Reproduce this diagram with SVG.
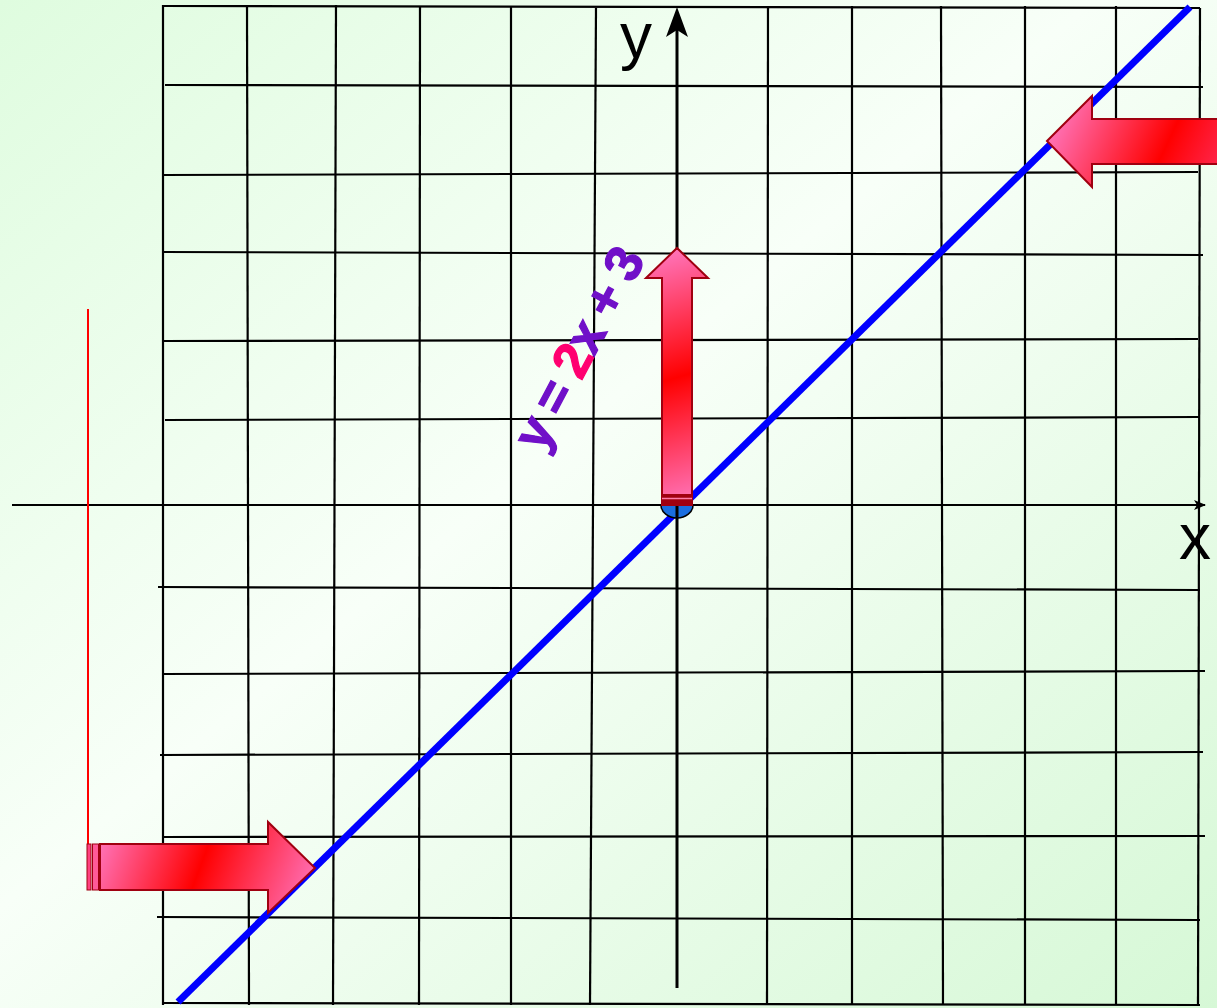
<svg xmlns="http://www.w3.org/2000/svg" width="1217" height="1008" viewBox="0 0 1217 1008">
<defs>
<linearGradient id="bg" x1="0" y1="0" x2="1" y2="1">
<stop offset="0" stop-color="#dffcdf"/>
<stop offset="0.45" stop-color="#f8fff8"/>
<stop offset="1" stop-color="#d6f8d6"/>
</linearGradient>
<linearGradient id="gUp" gradientUnits="userSpaceOnUse" x1="640" y1="255" x2="714" y2="500">
<stop offset="0" stop-color="#ff78c0"/>
<stop offset="0.5" stop-color="#ff0000"/>
<stop offset="1" stop-color="#ff78c0"/>
</linearGradient>
<linearGradient id="gLeft" gradientUnits="userSpaceOnUse" x1="1060" y1="100" x2="1250" y2="190">
<stop offset="0" stop-color="#ff78c0"/>
<stop offset="0.55" stop-color="#ff0000"/>
<stop offset="1" stop-color="#ff4080"/>
</linearGradient>
<linearGradient id="gRight" gradientUnits="userSpaceOnUse" x1="100" y1="830" x2="300" y2="905">
<stop offset="0" stop-color="#ff78c0"/>
<stop offset="0.5" stop-color="#ff0000"/>
<stop offset="1" stop-color="#ff6aac"/>
</linearGradient>
<marker id="xhead" viewBox="0 0 12 10" refX="11" refY="5" markerWidth="12" markerHeight="10" markerUnits="userSpaceOnUse" orient="auto">
<path d="M0,0 L12,5 L0,10 L3,5 Z" fill="#000"/>
</marker>
</defs>
<style>
.grid line{stroke:#000;stroke-width:2.2}
.bigarrow{stroke:#a00010;stroke-width:2}
.lbl{font-family:"Liberation Sans",Arial,sans-serif;fill:#000}
.eq{font-family:"Liberation Sans",Arial,sans-serif;font-weight:bold;fill:#7010c8;stroke:#7010c8;stroke-width:1.2}
</style>
<rect x="0" y="0" width="1217" height="1008" fill="url(#bg)"/>
<g id="grid" class="grid">
<line x1="163" y1="5" x2="163" y2="1005"/>
<line x1="247" y1="6" x2="249" y2="1005"/>
<line x1="336" y1="5" x2="333" y2="1005"/>
<line x1="420" y1="6" x2="419" y2="1005"/>
<line x1="511" y1="6" x2="511" y2="1005"/>
<line x1="596" y1="8" x2="590" y2="1005"/>
<line x1="768" y1="6" x2="767" y2="1005"/>
<line x1="852" y1="6" x2="852" y2="1005"/>
<line x1="941" y1="6" x2="943" y2="1005"/>
<line x1="1025" y1="6" x2="1025" y2="1005"/>
<line x1="1116" y1="6" x2="1116" y2="1005"/>
<line x1="1200" y1="8" x2="1198" y2="1005"/>
<line x1="163" y1="6" x2="1200" y2="8"/>
<line x1="165" y1="85" x2="1203" y2="87"/>
<line x1="163" y1="175" x2="1198" y2="172"/>
<line x1="163" y1="252" x2="1203" y2="255"/>
<line x1="163" y1="341" x2="1198" y2="339"/>
<line x1="165" y1="420" x2="1200" y2="417"/>
<line x1="158" y1="587" x2="1200" y2="590"/>
<line x1="163" y1="674" x2="1205" y2="671"/>
<line x1="160" y1="755" x2="1203" y2="752"/>
<line x1="163" y1="837" x2="1205" y2="836"/>
<line x1="157" y1="917" x2="1200" y2="920"/>
<line x1="163" y1="1003" x2="1200" y2="1005"/>
</g>
<g id="connectors">
<line id="x-axis" x1="12" y1="505" x2="1205" y2="505" stroke="#000" stroke-width="2" marker-end="url(#xhead)"/>
<line id="y-axis" x1="677" y1="988" x2="677" y2="30" stroke="#000" stroke-width="3"/>
<path d="M677,7 L666,37 L677,30 L688,37 Z" fill="#000"/>
<line id="red-line" x1="88" y1="309" x2="88" y2="889" stroke="#ff0000" stroke-width="2"/>
<line id="graph" x1="178" y1="1002" x2="1190" y2="7" stroke="#0000ff" stroke-width="7"/>
</g>
<g id="origin">
<path d="M661,505 A16,13 0 0 0 693,505 Z" fill="#1a6ee0" stroke="#000" stroke-width="1.5"/>
<line x1="677" y1="505" x2="677" y2="518" stroke="#000" stroke-width="3"/>
</g>
<g id="arrow-up">
<path class="bigarrow" fill="url(#gUp)" d="M662,505 L662,278 L646,278 L677,248 L708,278 L692,278 L692,505 Z"/>
<rect x="662" y="494" width="30" height="11" fill="#a00010"/>
<line x1="662" y1="498.5" x2="692" y2="498.5" stroke="#ff7aa8" stroke-width="1.5"/>
</g>
<g id="arrow-left">
<path class="bigarrow" fill="url(#gLeft)" d="M1047,141 L1092,96 L1092,119 L1220,119 L1220,164 L1092,164 L1092,187 Z"/>
</g>
<g id="arrow-right">
<rect x="87" y="844" width="4" height="46" fill="#ff4080" stroke="#a00010" stroke-width="1"/>
<rect x="92.5" y="844" width="6" height="46" fill="#ff5a98" stroke="#a00010" stroke-width="1"/>
<path class="bigarrow" fill="url(#gRight)" d="M100,844 L268,844 L268,822 L315,868 L268,913 L268,890 L100,890 Z"/>
</g>
<g id="labels">
<text class="lbl" x="620" y="58" font-size="64">y</text>
<text class="lbl" x="1179" y="559" font-size="64">x</text>
<text class="eq" transform="translate(594,357) rotate(-62)" text-anchor="middle" font-size="52" letter-spacing="-1.5">y = <tspan fill="#ff0070" stroke="#ff0070">2</tspan>x + 3</text>
</g>
</svg>
